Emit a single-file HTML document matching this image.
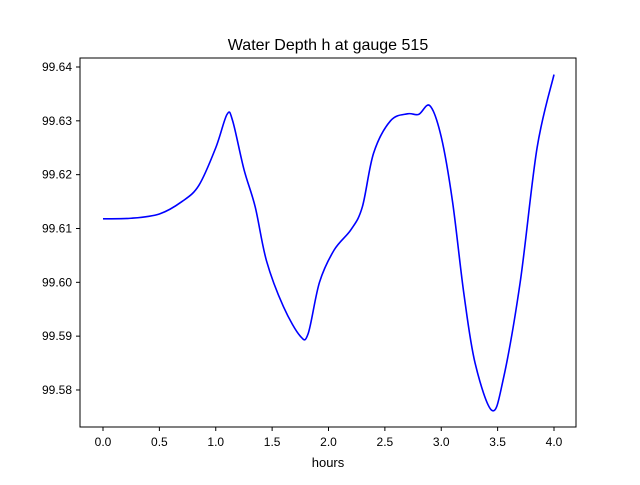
<!DOCTYPE html>
<html><head><meta charset="utf-8"><style>
body{margin:0;background:#fff;font-family:"Liberation Sans","DejaVu Sans",sans-serif}
</style></head><body>
<svg width="640" height="480" xmlns="http://www.w3.org/2000/svg">
<rect width="640" height="480" fill="#fff"/>
<text x="328" y="50" text-anchor="middle" font-size="16">Water Depth h at gauge 515</text>
<g id="plot"></g>
<rect x="80" y="58" width="496" height="369" fill="none" stroke="#000" stroke-width="1"/>
<text x="328" y="467" text-anchor="middle" font-size="13">hours</text>
</svg>
<script>
const hours=[0,0.25,0.5,0.7,0.85,1.0,1.1,1.15,1.25,1.35,1.45,1.6,1.75,1.82,1.92,2.05,2.2,2.3,2.4,2.55,2.7,2.8,2.9,3.0,3.1,3.2,3.3,3.45,3.55,3.7,3.85,4.0];
const depth=[99.6118,99.6119,99.6127,99.615,99.618,99.625,99.6312,99.630,99.621,99.614,99.604,99.5955,99.590,99.5905,99.600,99.606,99.6098,99.614,99.624,99.630,99.6313,99.6312,99.6328,99.627,99.615,99.598,99.585,99.5762,99.582,99.600,99.625,99.6386];
const xTicks=[0,0.5,1,1.5,2,2.5,3,3.5,4];
const xLabels=["0.0","0.5","1.0","1.5","2.0","2.5","3.0","3.5","4.0"];
const yTicks=[99.58,99.59,99.60,99.61,99.62,99.63,99.64];
const yLabels=["99.58","99.59","99.60","99.61","99.62","99.63","99.64"];
const NS="http://www.w3.org/2000/svg";
const X=v=>103+v*112.75;
const Y=v=>67+(99.64-v)/0.01*53.83;
const g=document.getElementById('plot');
function mk(t,a){const e=document.createElementNS(NS,t);for(const k in a)e.setAttribute(k,a[k]);g.appendChild(e);return e;}
xTicks.forEach((t,i)=>{
 const l=mk('line',{x1:X(t),x2:X(t),y1:427,y2:431,stroke:'#000'});
 
 
 const s=mk('text',{x:X(t),y:446,'text-anchor':'middle','font-size':12});
 s.textContent=xLabels[i];
 
 
});
yTicks.forEach((t,i)=>{
 const l=mk('line',{x1:76,x2:80,y1:Y(t),y2:Y(t),stroke:'#000'});
 
 
 const s=mk('text',{x:72,y:Y(t)+4,'text-anchor':'end','font-size':12});
 s.textContent=yLabels[i];
 
 
});
const P=hours.map((h,i)=>[X(h),Y(depth[i])]);
let d='M'+P[0][0]+','+P[0][1];
for(let i=0;i<P.length-1;i++){
 const p0=P[Math.max(0,i-1)],p1=P[i],p2=P[i+1],p3=P[Math.min(P.length-1,i+2)];
 const c1=[p1[0]+(p2[0]-p0[0])/6,p1[1]+(p2[1]-p0[1])/6];
 const c2=[p2[0]-(p3[0]-p1[0])/6,p2[1]-(p3[1]-p1[1])/6];
 d+=`C${c1[0]},${c1[1]} ${c2[0]},${c2[1]} ${p2[0]},${p2[1]}`;
}
const line=mk('path',{d:d,fill:'none',stroke:'#0000ff','stroke-width':1.6});


</script>
</body></html>
